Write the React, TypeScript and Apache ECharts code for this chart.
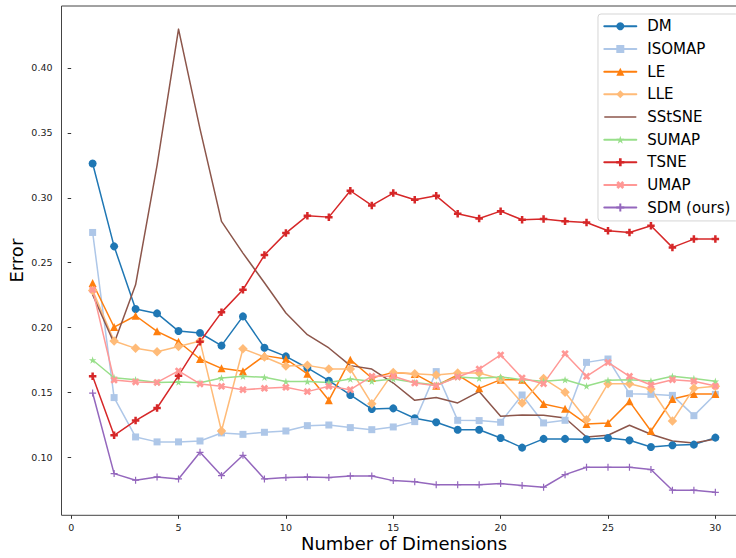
import React, { useEffect, useRef } from "react";
import * as echarts from "echarts";

const dims = Array.from({ length: 30 }, (_, i) => i + 1);

const DM = [0.3264, 0.2626, 0.2144, 0.2110, 0.1974, 0.1959, 0.1862, 0.2087, 0.1846, 0.1779, 0.1690, 0.1592, 0.1482, 0.1374, 0.1379, 0.1303, 0.1272, 0.1215, 0.1215, 0.1151, 0.1077, 0.1144, 0.1144, 0.1141, 0.1151, 0.1133, 0.1082, 0.1095, 0.1100, 0.1154];
const ISOMAP = [0.2733, 0.1462, 0.1159, 0.1121, 0.1121, 0.1128, 0.1190, 0.1179, 0.1195, 0.1205, 0.1246, 0.1251, 0.1231, 0.1215, 0.1236, 0.1277, 0.1662, 0.1287, 0.1285, 0.1272, 0.1482, 0.1267, 0.1287, 0.1733, 0.1759, 0.1492, 0.1487, 0.1479, 0.1323, 0.1487];
const LE = [0.2344, 0.2005, 0.2092, 0.1972, 0.1892, 0.1759, 0.1687, 0.1664, 0.1785, 0.1759, 0.1645, 0.1441, 0.1754, 0.1613, 0.1656, 0.1644, 0.1554, 0.1636, 0.1533, 0.1600, 0.1600, 0.1412, 0.1377, 0.1259, 0.1267, 0.1433, 0.1205, 0.1451, 0.1490, 0.1490];
const LLE = [0.2287, 0.1897, 0.1841, 0.1815, 0.1856, 0.1897, 0.1205, 0.1838, 0.1774, 0.1705, 0.1710, 0.1682, 0.1682, 0.1415, 0.1656, 0.1646, 0.1636, 0.1651, 0.1651, 0.1605, 0.1421, 0.1608, 0.1503, 0.1292, 0.1569, 0.1569, 0.1528, 0.1282, 0.1533, 0.1549];
const SSTSNE = [0.2254, 0.1880, 0.2330, 0.3250, 0.4298, 0.3530, 0.2818, 0.2574, 0.2346, 0.2113, 0.1946, 0.1844, 0.1708, 0.1682, 0.1574, 0.1441, 0.1462, 0.1421, 0.1508, 0.1318, 0.1328, 0.1326, 0.1305, 0.1159, 0.1172, 0.1249, 0.1180, 0.1128, 0.1113, 0.1144];
const SUMAP = [0.1751, 0.1615, 0.1600, 0.1579, 0.1582, 0.1577, 0.1613, 0.1626, 0.1618, 0.1585, 0.1585, 0.1579, 0.1605, 0.1587, 0.1605, 0.1579, 0.1559, 0.1621, 0.1610, 0.1621, 0.1600, 0.1587, 0.1600, 0.1551, 0.1595, 0.1600, 0.1590, 0.1626, 0.1608, 0.1587];
const TSNE = [0.1626, 0.1172, 0.1285, 0.1382, 0.1631, 0.1892, 0.2118, 0.2292, 0.2559, 0.2728, 0.2862, 0.2851, 0.3054, 0.2941, 0.3036, 0.2985, 0.3015, 0.2877, 0.2841, 0.2897, 0.2831, 0.2836, 0.2820, 0.2810, 0.2746, 0.2733, 0.2785, 0.2618, 0.2682, 0.2682];
const UMAP = [0.2292, 0.1597, 0.1582, 0.1579, 0.1667, 0.1567, 0.1549, 0.1523, 0.1533, 0.1541, 0.1508, 0.1549, 0.1523, 0.1626, 0.1626, 0.1574, 0.1554, 0.1621, 0.1682, 0.1790, 0.1613, 0.1569, 0.1800, 0.1626, 0.1733, 0.1626, 0.1559, 0.1600, 0.1587, 0.1551];
const SDM = [0.1497, 0.0877, 0.0826, 0.0851, 0.0836, 0.1041, 0.0862, 0.1018, 0.0836, 0.0846, 0.0851, 0.0846, 0.0859, 0.0859, 0.0823, 0.0815, 0.0792, 0.0792, 0.0792, 0.0800, 0.0785, 0.0772, 0.0869, 0.0926, 0.0926, 0.0926, 0.0908, 0.0749, 0.0749, 0.0733];

const xTicks = [0, 5, 10, 15, 20, 25, 30];
const yTicks = [0.1, 0.15, 0.2, 0.25, 0.3, 0.35, 0.4];

const STAR = "path://M0,-10L2.245,-3.09L9.511,-3.09L3.633,1.18L5.878,8.09L0,3.82L-5.878,8.09L-3.633,1.18L-9.511,-3.09L-2.245,-3.09Z";
const PLUS_FILLED = "path://M-1,-3L1,-3L1,-1L3,-1L3,1L1,1L1,3L-1,3L-1,1L-3,1L-3,-1L-1,-1Z";
const X_FILLED = "path://M-1,-2L0,-1L1,-2L2,-1L1,0L2,1L1,2L0,1L-1,2L-2,1L-1,0L-2,-1Z";
const PLUS = "path://M0,-1L0,1M-1,0L1,0";
const LINE_ICON = "path://M0,0L32,0L32,1.5L0,1.5Z";

const seriesDefs = [
  { name: "DM", data: DM, color: "#1f77b4", symbol: "circle", size: 8 },
  { name: "ISOMAP", data: ISOMAP, color: "#aec7e8", symbol: "rect", size: 7 },
  { name: "LE", data: LE, color: "#ff7f0e", symbol: "triangle", size: 8 },
  { name: "LLE", data: LLE, color: "#ffbb78", symbol: "diamond", size: 9.5 },
  { name: "SStSNE", data: SSTSNE, color: "#8c564b", symbol: "none", size: 0 },
  { name: "SUMAP", data: SUMAP, color: "#98df8a", symbol: STAR, size: 7.5 },
  { name: "TSNE", data: TSNE, color: "#d62728", symbol: PLUS_FILLED, size: 7.5 },
  { name: "UMAP", data: UMAP, color: "#ff9896", symbol: X_FILLED, size: 7.5 },
  { name: "SDM (ours)", data: SDM, color: "#9467bd", symbol: PLUS, size: 7 },
];

const FONT = "DejaVu Sans";

export default function App() {
  const ref = useRef<HTMLDivElement>(null);
  useEffect(() => {
    document.body.style.margin = "0";
    const chart = echarts.init(ref.current!, null, { renderer: "svg" });
    const series = seriesDefs.map((s) => ({
      name: s.name,
      type: "line",
      data: dims.map((d, i) => [d, s.data[i]]),
      symbol: s.symbol,
      symbolSize: s.size,
      showSymbol: s.symbol !== "none",
      lineStyle: { color: s.color, width: 1.5, join: "round", cap: "round" },
      itemStyle:
        s.symbol === PLUS
          ? { color: s.color, borderColor: s.color, borderWidth: 1.2 }
          : { color: s.color },
      emphasis: { disabled: true },
      z: 2,
    }));
    chart.setOption({
      animation: false,
      backgroundColor: "#ffffff",
      textStyle: { fontFamily: FONT },
      grid: {
        left: 61.5,
        top: 6,
        width: 685,
        height: 509.3,
        show: true,
        borderColor: "#444",
        borderWidth: 1,
        containLabel: false,
        outerBoundsMode: "none",
      },
      legend: {
        orient: "vertical",
        left: 598,
        top: 14,
        padding: [1, 8, 2, 5.3],
        itemWidth: 32,
        itemHeight: 10,
        itemGap: 0,
        backgroundColor: "rgba(255,255,255,0.85)",
        borderColor: "#d5d5d5",
        borderWidth: 1,
        borderRadius: 3,
        textStyle: {
          fontFamily: FONT,
          fontSize: 15,
          color: "#000",
          lineHeight: 22.66,
          padding: [0, 0, 0, 6],
        },
        data: seriesDefs.map((s) =>
          s.symbol === "none" ? { name: s.name, icon: LINE_ICON } : s.name
        ),
      },
      xAxis: {
        type: "value",
        min: -0.45,
        max: 31.45,
        name: "Number of Dimensions",
        nameLocation: "middle",
        nameGap: 19,
        nameMoveOverlap: false,
        nameTextStyle: { fontFamily: FONT, fontSize: 18, color: "#000" },
        axisLine: { show: false },
        axisTick: { show: true, length: 3.5, lineStyle: { color: "#333" }, customValues: xTicks },
        axisLabel: {
          fontFamily: FONT,
          fontSize: 9.5,
          color: "#222",
          margin: 7.5,
          customValues: xTicks,
          formatter: (v: number) => String(v),
        },
        splitLine: { show: false },
      },
      yAxis: {
        type: "value",
        min: 0.0556,
        max: 0.4476,
        name: "Error",
        nameLocation: "middle",
        nameGap: 36,
        nameMoveOverlap: false,
        nameTextStyle: { fontFamily: FONT, fontSize: 18, color: "#000" },
        axisLine: { show: false },
        axisTick: { show: true, length: 3.5, lineStyle: { color: "#333" }, customValues: yTicks },
        axisLabel: {
          fontFamily: FONT,
          fontSize: 9.5,
          color: "#222",
          margin: 9,
          customValues: yTicks,
          formatter: (v: number) => v.toFixed(2),
        },
        splitLine: { show: false },
      },
      series,
    });
    return () => chart.dispose();
  }, []);
  return <div ref={ref} style={{ width: 736, height: 558 }} />;
}
